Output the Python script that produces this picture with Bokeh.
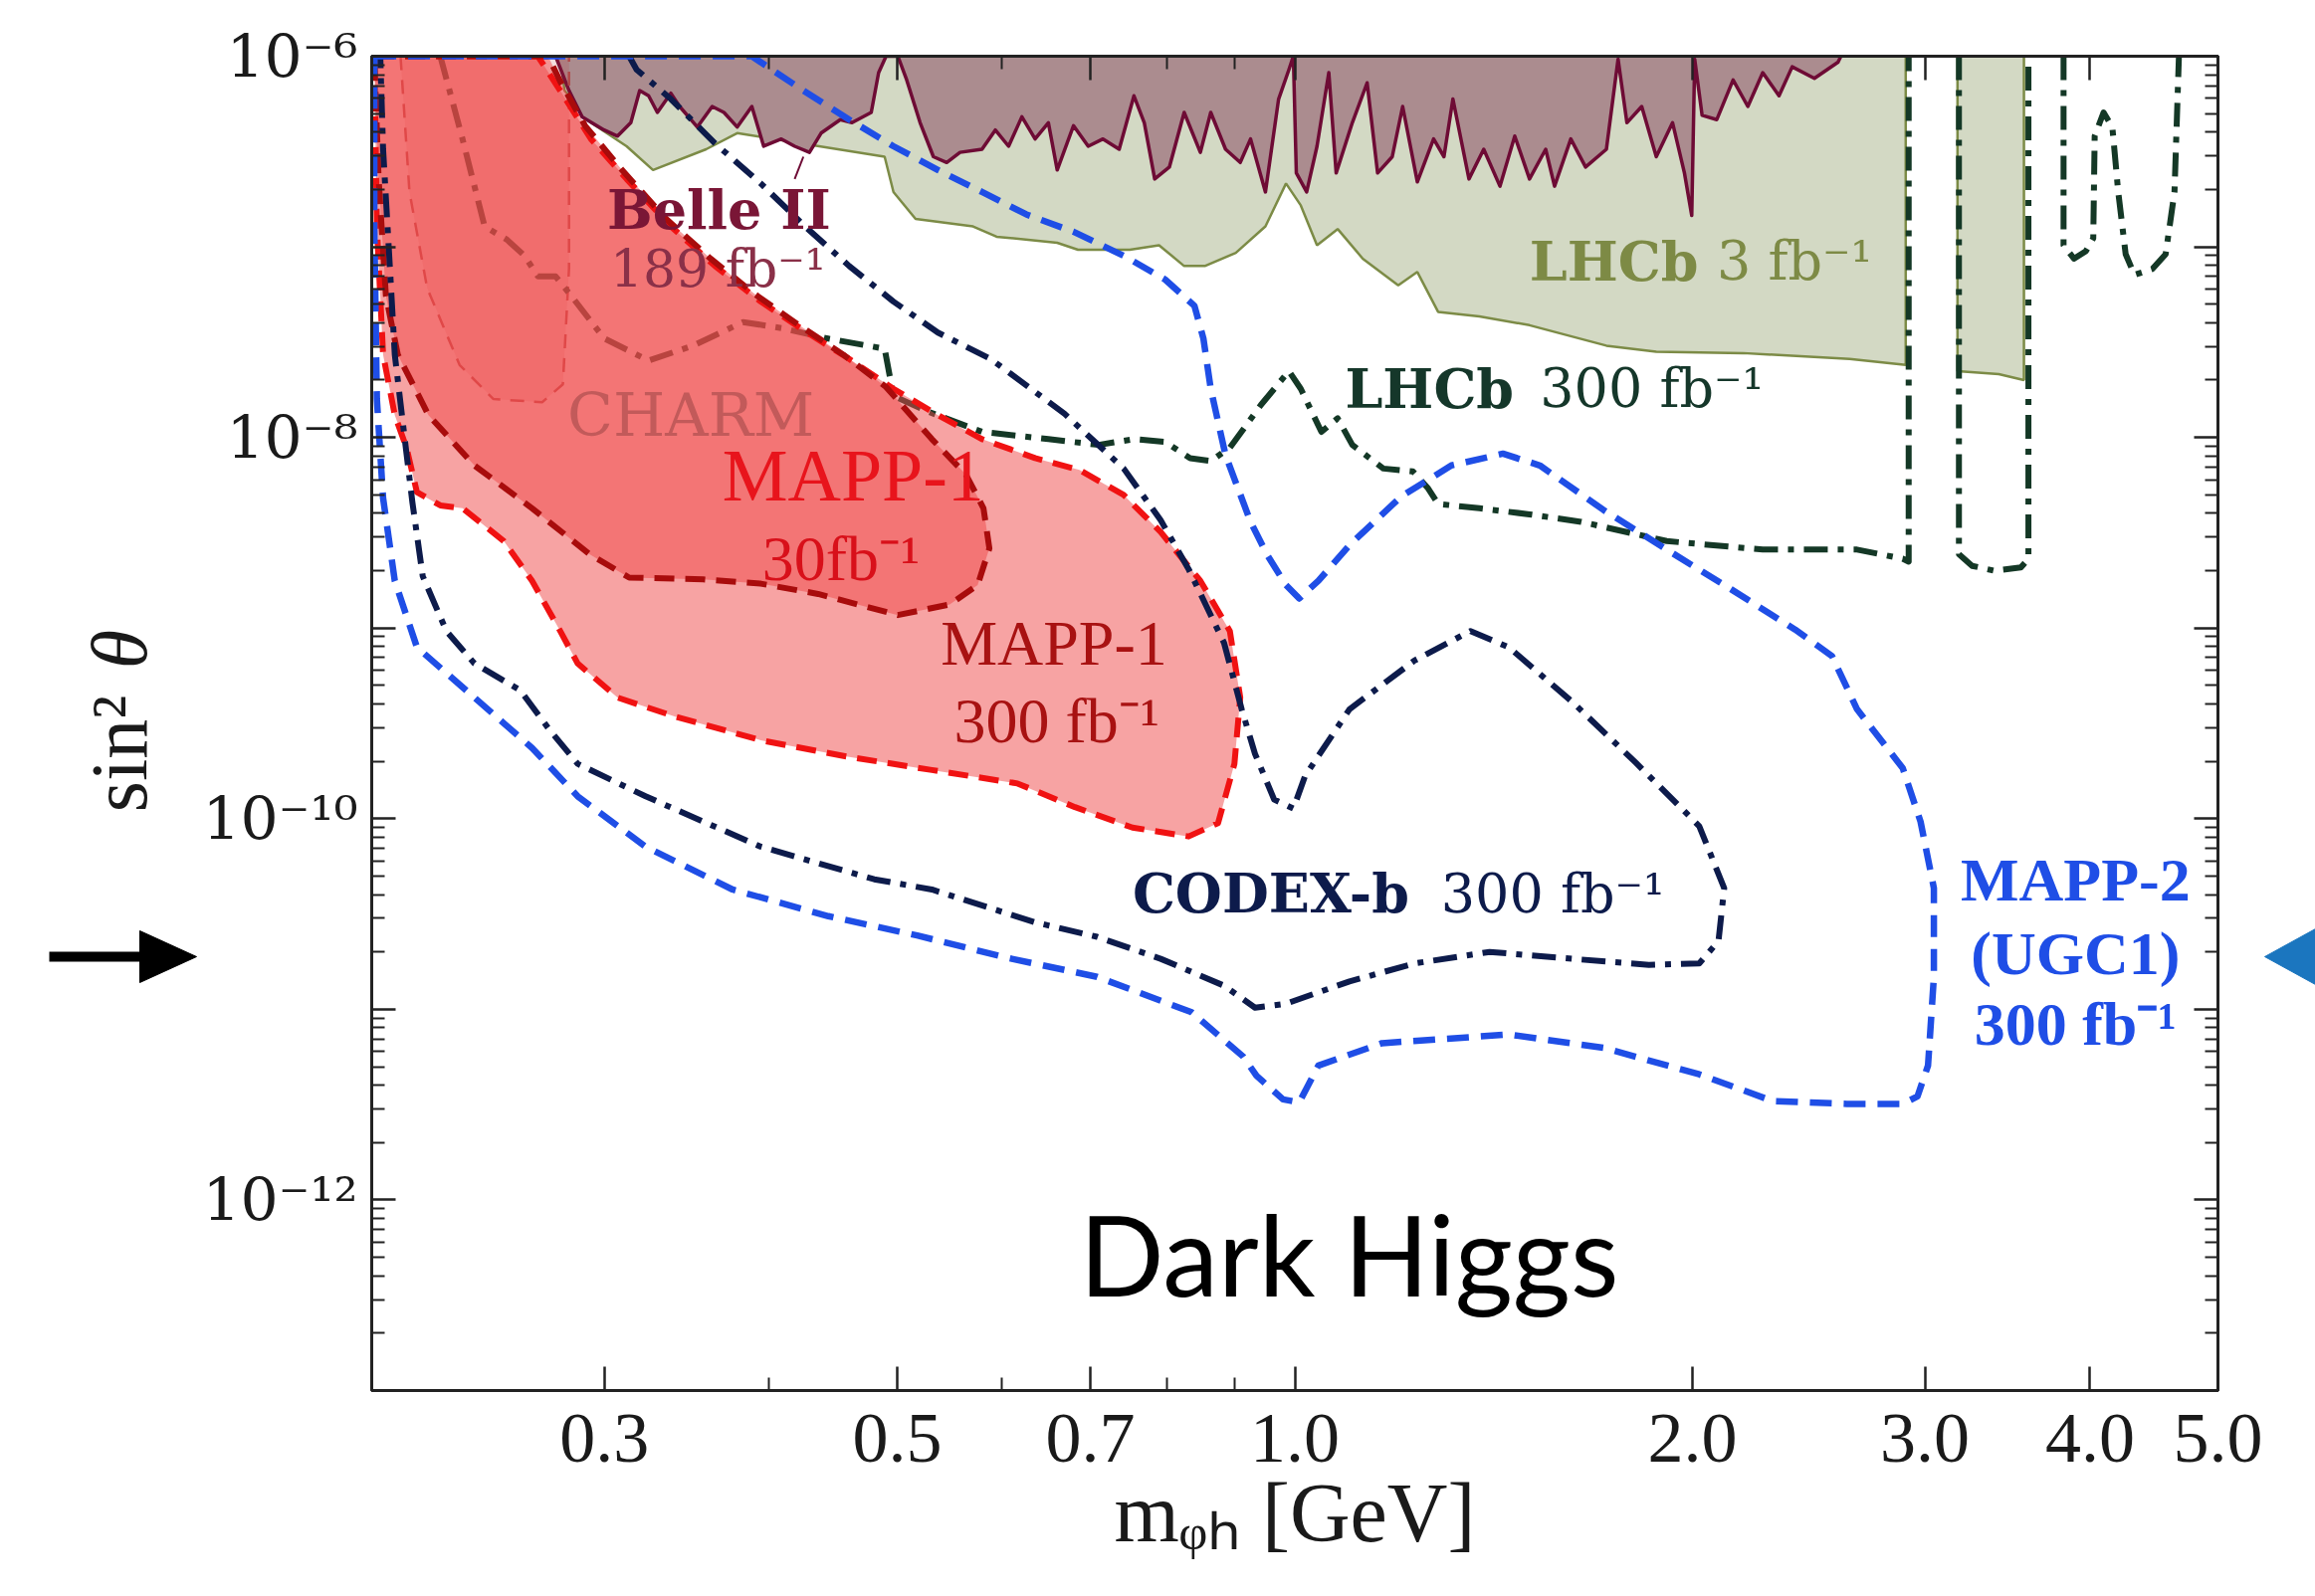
import math
from bokeh.plotting import figure
from bokeh.layouts import row
from bokeh.models import FixedTicker, CustomJSTickFormatter, LogAxis, Label
from bokeh.core.properties import value
from bokeh.embed import file_html
from bokeh.resources import INLINE

# ---------------- data (mass in GeV, sin^2 theta) ----------------
lhcb3_mass = [0.2778, 0.2799, 0.2931, 0.3119, 0.3266, 0.3583, 0.3782, 0.4891, 0.4967, 0.5162,
              0.5706, 0.5946, 0.6608, 0.6852, 0.7499, 0.7892, 0.8245, 0.8547, 0.9022, 0.9500,
              0.9847, 1.0104, 1.0394, 1.0775, 1.1257, 1.1975, 1.2381, 1.2837, 1.3795, 1.5055,
              1.7215, 1.8779, 2.186, 2.631, 2.901, 2.901]
lhcb3_sin2 = [1.0e-6, 6.6e-7, 4.48e-7, 3.37e-7, 2.53e-7, 3.25e-7, 3.95e-7, 2.97e-7, 1.94e-7, 1.40e-7,
              1.28e-7, 1.13e-7, 1.05e-7, 9.65e-8, 9.65e-8, 1.02e-7, 7.93e-8, 7.93e-8, 9.3e-8, 1.28e-7,
              2.15e-7, 1.65e-7, 1.02e-7, 1.24e-7, 8.67e-8, 6.28e-8, 7.38e-8, 4.56e-8, 4.32e-8, 3.88e-8,
              3.03e-8, 2.82e-8, 2.77e-8, 2.58e-8, 2.40e-8, 1.0e-6]
lhcb3b_mass = [3.175, 3.175, 3.412, 3.565, 3.565]
lhcb3b_sin2 = [1.0e-6, 2.23e-8, 2.15e-8, 2.0e-8, 1.0e-6]

belle_mass = [0.2756, 0.2821, 0.2886, 0.2999, 0.3070, 0.3142, 0.3191, 0.3241, 0.3291, 0.3369,
              0.3421, 0.3528, 0.3621, 0.3696, 0.3782, 0.3880, 0.3961, 0.4085, 0.4181, 0.4290,
              0.4378, 0.4527, 0.4621, 0.4778, 0.4840, 0.4903, 0.5005, 0.5083, 0.5203, 0.5325,
              0.5450, 0.5578, 0.5796, 0.5932, 0.6071, 0.6213, 0.6358, 0.6507, 0.6608, 0.6798,
              0.6975, 0.7157, 0.7362, 0.7554, 0.7691, 0.7832, 0.8035, 0.8245, 0.8481, 0.8636,
              0.8862, 0.9092, 0.9257, 0.9500, 0.9721, 0.9897, 0.9974, 1.0026, 1.0208, 1.0394,
              1.0610, 1.0747, 1.1054, 1.1343, 1.1552, 1.1851, 1.2068, 1.2381, 1.2737, 1.2969,
              1.3173, 1.3547, 1.3900, 1.4299, 1.4673, 1.5055, 1.5486, 1.5727, 1.6179, 1.6601,
              1.7215, 1.7569, 1.7842, 1.8308, 1.8779, 1.9320, 1.9724, 1.9977, 2.008, 2.034,
              2.087, 2.147, 2.203, 2.261, 2.326, 2.380, 2.474, 2.578, 2.591]
belle_sin2 = [1.0e-6, 6.6e-7, 4.81e-7, 4.1e-7, 3.81e-7, 4.48e-7, 6.6e-7, 6.2e-7, 5.07e-7, 6.4e-7,
              5.45e-7, 4.25e-7, 5.45e-7, 5.07e-7, 4.25e-7, 5.45e-7, 3.37e-7, 3.68e-7, 3.37e-7, 3.13e-7,
              3.95e-7, 4.65e-7, 4.48e-7, 5.07e-7, 8.2e-7, 1.0e-6, 1.0e-6, 7.5e-7, 4.48e-7, 2.97e-7,
              2.77e-7, 3.13e-7, 3.25e-7, 4.1e-7, 3.37e-7, 4.81e-7, 3.68e-7, 4.48e-7, 2.53e-7, 4.32e-7,
              3.37e-7, 3.68e-7, 3.25e-7, 6.2e-7, 4.48e-7, 2.27e-7, 2.62e-7, 5.07e-7, 3.13e-7, 5.07e-7,
              3.25e-7, 2.77e-7, 3.68e-7, 1.94e-7, 5.96e-7, 8.5e-7, 1.0e-6, 2.44e-7, 1.94e-7, 3.37e-7,
              8.2e-7, 2.44e-7, 4.48e-7, 7.25e-7, 2.44e-7, 2.97e-7, 5.45e-7, 2.19e-7, 3.68e-7, 2.97e-7,
              5.96e-7, 2.27e-7, 3.25e-7, 2.08e-7, 3.81e-7, 2.27e-7, 3.25e-7, 2.08e-7, 3.68e-7, 2.62e-7,
              3.25e-7, 9.65e-7, 4.48e-7, 5.45e-7, 2.97e-7, 4.48e-7, 2.44e-7, 1.46e-7, 9.65e-7, 4.9e-7,
              4.65e-7, 7.5e-7, 5.45e-7, 8.2e-7, 6.2e-7, 8.8e-7, 7.65e-7, 9.3e-7, 1.0e-6]
belle_pointer_mass = [0.4245, 0.4181]
belle_pointer_sin2 = [2.97e-7, 2.27e-7]

charm_mass = [0.2103, 0.2136, 0.2203, 0.2331, 0.2473, 0.2692, 0.2791, 0.2821, 0.2821, 0.2821]
charm_sin2 = [1.0e-6, 1.94e-7, 6.07e-8, 2.40e-8, 1.59e-8, 1.53e-8, 1.90e-8, 7.65e-8, 3.81e-7, 1.0e-6]

lhcb300_mass = [0.2254, 0.2343, 0.2435, 0.2532, 0.2611, 0.2672, 0.2756, 0.2842, 0.2999, 0.3241,
                0.3501, 0.3821, 0.4085, 0.4423, 0.4891, 0.4967, 0.5284, 0.5796, 0.6507, 0.7102,
                0.7554, 0.7973, 0.8331, 0.8636, 0.8929, 0.9425, 0.9897, 1.0104, 1.0474, 1.0775,
                1.1054, 1.1668, 1.2285, 1.2605, 1.2837, 1.3795, 1.5055, 1.6472, 1.9124, 2.261,
                2.665, 2.886, 2.916, 2.916]
lhcb300_sin2 = [1.0e-6, 3.68e-7, 1.28e-7, 1.09e-7, 8.98e-8, 7.0e-8, 7.0e-8, 5.36e-8, 3.31e-8, 2.53e-8,
                3.03e-8, 4.03e-8, 3.75e-8, 3.31e-8, 2.92e-8, 1.65e-8, 1.36e-8, 1.07e-8, 9.8e-9, 9.14e-9,
                9.8e-9, 9.48e-9, 7.79e-9, 7.52e-9, 8.83e-9, 1.48e-8, 2.23e-8, 1.80e-8, 1.07e-8, 1.26e-8,
                9.14e-9, 6.87e-9, 6.64e-9, 5.45e-9, 4.48e-9, 4.25e-9, 3.95e-9, 3.61e-9, 2.86e-9, 2.58e-9,
                2.58e-9, 2.31e-9, 2.23e-9, 1.0e-6]
lhcb300_u_mass = [3.183, 3.183, 3.257, 3.385, 3.546, 3.593, 3.593]
lhcb300_u_sin2 = [1.0e-6, 2.44e-9, 2.12e-9, 2.0e-9, 2.08e-9, 2.31e-9, 1.0e-6]
lhcb300_w_mass = [3.820, 3.820, 3.890, 3.971, 4.023, 4.033, 4.096, 4.159, 4.202, 4.257,
                  4.323, 4.460, 4.564, 4.635, 4.671]
lhcb300_w_sin2 = [1.0e-6, 1.02e-7, 8.67e-8, 9.48e-8, 1.11e-7, 3.81e-7, 5.07e-7, 4.25e-7, 1.94e-7, 9.14e-8,
                  7.13e-8, 7.65e-8, 9.14e-8, 1.94e-7, 1.0e-6]

codex_mass = [0.3133, 0.3174, 0.3369, 0.3639, 0.3941, 0.4257, 0.4598, 0.4967, 0.5367, 0.5885,
              0.6694, 0.7420, 0.7914, 0.8309, 0.8839, 0.9115, 0.9329, 0.9646, 0.9974, 1.0182,
              1.0999, 1.2317, 1.3583, 1.4522, 1.6221, 1.8117, 2.024, 2.114, 2.093, 2.024,
              1.8540, 1.6221, 1.4043, 1.2317, 1.0999, 0.9847, 0.9329, 0.8839, 0.7914, 0.7084,
              0.6358, 0.5311, 0.4803, 0.3941, 0.3224, 0.2864, 0.2727, 0.2591, 0.2392, 0.2278,
              0.2186, 0.2147, 0.2114, 0.2082, 0.2061, 0.2040, 0.2030]
codex_sin2 = [1.0e-6, 8.5e-7, 5.96e-7, 3.49e-7, 2.15e-7, 1.28e-7, 7.93e-8, 5.16e-8, 3.55e-8, 2.58e-8,
              1.33e-8, 6.87e-9, 3.68e-9, 2.04e-9, 8.36e-10, 3.75e-10, 2.19e-10, 1.26e-10, 1.13e-10, 1.68e-10,
              3.75e-10, 6.75e-10, 9.65e-10, 7.93e-10, 4.1e-10, 1.97e-10, 9.14e-11, 4.32e-11, 2.28e-11, 1.74e-11,
              1.71e-11, 1.84e-11, 2.0e-11, 1.74e-11, 1.40e-11, 1.07e-11, 1.02e-11, 1.33e-11, 1.84e-11, 2.4e-11,
              2.86e-11, 4.25e-11, 4.81e-11, 7.13e-11, 1.31e-10, 1.94e-10, 2.92e-10, 4.72e-10, 6.52e-10, 9.65e-10,
              1.87e-9, 4.56e-9, 1.11e-8, 2.72e-8, 9.48e-8, 3.25e-7, 1.0e-6]

mapp2_mass = [0.2009, 0.3880, 0.4245, 0.4598, 0.4967, 0.5367, 0.5796, 0.6261, 0.6798, 0.7420,
              0.7973, 0.8394, 0.8526, 0.8636, 0.8862, 0.9257, 0.9523, 0.9847, 1.0077, 1.0420,
              1.0999, 1.2036, 1.3137, 1.4373, 1.5329, 1.7125, 1.9124, 2.142, 2.392, 2.551,
              2.665, 2.886, 2.977, 3.047, 3.047, 3.016, 2.961, 2.886, 2.618, 2.301,
              2.024, 1.7125, 1.4522, 1.1639, 1.0420, 1.0077, 0.9796, 0.9353, 0.9139, 0.8352,
              0.7084, 0.6040, 0.5176, 0.4434, 0.3752, 0.3224, 0.2864, 0.2645, 0.2392, 0.2164,
              0.2082, 0.2040, 0.2018, 0.2009, 0.2009]
mapp2_sin2 = [1.0e-6, 1.0e-6, 6.6e-7, 4.65e-7, 3.37e-7, 2.53e-7, 1.94e-7, 1.48e-7, 1.20e-7, 8.98e-8,
              6.75e-8, 4.9e-8, 3.31e-8, 1.80e-8, 8.07e-9, 3.61e-9, 2.44e-9, 1.68e-9, 1.43e-9, 1.77e-9,
              2.72e-9, 4.9e-9, 7.13e-9, 8.22e-9, 7.13e-9, 4.17e-9, 2.58e-9, 1.59e-9, 9.82e-10, 7.13e-10,
              3.75e-10, 1.84e-10, 9.65e-11, 4.32e-11, 1.48e-11, 5.07e-12, 3.49e-12, 3.19e-12, 3.19e-12, 3.3e-12,
              4.56e-12, 6.28e-12, 7.38e-12, 6.64e-12, 5.07e-12, 3.25e-12, 3.37e-12, 4.48e-12, 5.65e-12, 9.65e-12,
              1.48e-11, 1.87e-11, 2.44e-11, 3.08e-11, 4.25e-11, 7.13e-11, 1.31e-10, 2.35e-10, 4.32e-10, 7.93e-10,
              1.77e-9, 4.81e-9, 1.59e-8, 1.28e-7, 1.0e-6]

mapp1_300_mass = [0.2009, 0.2672, 0.2778, 0.2931, 0.3119, 0.3369, 0.3639, 0.3941, 0.4257, 0.4598,
                  0.4967, 0.5367, 0.5796, 0.6358, 0.6869, 0.7420, 0.7914, 0.8481, 0.8929, 0.9092,
                  0.9000, 0.8747, 0.8309, 0.7535, 0.6816, 0.6166, 0.5311, 0.4574, 0.3941, 0.3395,
                  0.3070, 0.2864, 0.2778, 0.2645, 0.2518, 0.2343, 0.2254, 0.2164, 0.2125, 0.2082,
                  0.2040, 0.2018, 0.2009]
mapp1_300_sin2 = [1.0e-6, 1.0e-6, 6.6e-7, 3.68e-7, 2.27e-7, 1.28e-7, 7.93e-8, 5.16e-8, 3.61e-8, 2.58e-8,
                  1.80e-8, 1.31e-8, 9.8e-9, 7.79e-9, 6.75e-9, 4.99e-9, 3.19e-9, 1.77e-9, 9.65e-10, 4.32e-10,
                  1.94e-10, 9.48e-11, 8.07e-11, 8.98e-11, 1.15e-10, 1.53e-10, 1.80e-10, 2.12e-10, 2.58e-10, 3.43e-10,
                  4.32e-10, 6.52e-10, 9.65e-10, 1.77e-9, 2.86e-9, 4.25e-9, 4.4e-9, 5.16e-9, 8.83e-9, 1.31e-8,
                  2.72e-8, 1.28e-7, 1.0e-6]

mapp1_30_mass = [0.2009, 0.2720, 0.2778, 0.2901, 0.3094, 0.3342, 0.3611, 0.3900, 0.4213, 0.4551,
                 0.4903, 0.5311, 0.5635, 0.5811, 0.5871, 0.5752, 0.5478, 0.5005, 0.4355, 0.3941,
                 0.3565, 0.3133, 0.2924, 0.2645, 0.2392, 0.2208, 0.2093, 0.2050, 0.2024, 0.2009]
mapp1_30_sin2 = [1.0e-6, 1.0e-6, 7.38e-7, 4.32e-7, 2.53e-7, 1.40e-7, 8.67e-8, 5.65e-8, 3.88e-8, 2.72e-8,
                 1.84e-8, 9.8e-9, 6.4e-9, 4.25e-9, 2.62e-9, 1.68e-9, 1.33e-9, 1.17e-9, 1.51e-9, 1.71e-9,
                 1.80e-9, 1.84e-9, 2.44e-9, 4.25e-9, 7.13e-9, 1.31e-8, 2.72e-8, 5.54e-8, 2.31e-7, 1.0e-6]

x_tick_values = [0.3, 0.5, 0.7, 1.0, 2.0, 3.0, 4.0, 5.0]
x_minor_values = [0.4, 0.6, 0.8, 0.9]
y_decade_exponents = [-13, -12, -11, -10, -9, -8, -7, -6]

# ---------------- layout sizes (pixels) ----------------
W, H = 2326, 1604
LEFT_W, RIGHT_W = 200, 52
MAIN_W = W - LEFT_W - RIGHT_W
FRAME_TOP, FRAME_BOTTOM = 56, 1397          # canvas rows of the plot frame
BORDER_BOTTOM = H - FRAME_BOTTOM

def strip(width):
    # side strip whose frame spans the same rows as the main frame;
    # its y coordinate is "pixels up from the bottom of the page"
    f = figure(width=width, height=H, title=None,
               x_range=(0, width), y_range=(BORDER_BOTTOM, H - FRAME_TOP),
               output_backend="svg", toolbar_location=None,
               min_border_left=0, min_border_right=0,
               min_border_top=FRAME_TOP, min_border_bottom=BORDER_BOTTOM,
               x_axis_location=None, y_axis_location=None)
    f.outline_line_color = None
    f.grid.visible = False
    f.background_fill_color = "white"
    f.border_fill_color = "white"
    return f

# ---------------- main figure ----------------
p = figure(width=MAIN_W, height=H, x_axis_type="log", y_axis_type="log",
           x_range=(0.2, 5.0), y_range=(1e-13, 1e-6),
           output_backend="svg", toolbar_location=None,
           min_border_left=371 - LEFT_W, min_border_right=MAIN_W + LEFT_W - 2228,
           min_border_top=FRAME_TOP, min_border_bottom=BORDER_BOTTOM)
p.background_fill_color = "white"
p.border_fill_color = "white"
p.outline_line_color = "#222222"
p.outline_line_width = 3
p.xgrid.visible = False
p.ygrid.visible = False

y_major = [10.0 ** e for e in y_decade_exponents]
y_minor = [k * 10.0 ** e for e in y_decade_exponents[:-1] for k in range(2, 10)]

y_fmt_code = """
const e = Math.round(Math.log10(tick));
if (e % 2 !== 0) { return ""; }
const sup = {"-": "\u207b", "0": "\u2070", "1": "\u00b9", "2": "\u00b2", "3": "\u00b3",
             "4": "\u2074", "5": "\u2075", "6": "\u2076", "7": "\u2077", "8": "\u2078", "9": "\u2079"};
let s = "";
for (const c of String(e)) { s += sup[c]; }
return "10" + s;
"""

def style_axis(ax, labels=True):
    ax.axis_line_width = 3
    ax.axis_line_color = "#222222"
    ax.major_tick_in = 24
    ax.major_tick_out = 0
    ax.minor_tick_in = 13
    ax.minor_tick_out = 0
    ax.major_tick_line_width = 2.5
    ax.minor_tick_line_width = 2
    ax.major_tick_line_color = "#222222"
    ax.minor_tick_line_color = "#222222"
    if labels:
        ax.major_label_text_color = "#1a1a1a"
    else:
        ax.major_label_text_font_size = "0px"
        ax.major_label_standoff = 0

xb = p.below[0]
xb.ticker = FixedTicker(ticks=x_tick_values, minor_ticks=x_minor_values)
xb.formatter = CustomJSTickFormatter(code="return tick.toFixed(1);")
style_axis(xb)
xb.major_label_text_font = "Liberation Serif"
xb.major_label_text_font_size = "72px"
xb.major_label_standoff = 24
xb.axis_label = "m\u1d69\u2095 [GeV]"
xb.axis_label_text_font = "Liberation Serif"
xb.axis_label_text_font_size = "84px"
xb.axis_label_text_font_style = "normal"
xb.axis_label_text_color = "#1a1a1a"
xb.axis_label_standoff = 2

yl = p.left[0]
yl.ticker = FixedTicker(ticks=y_major, minor_ticks=y_minor)
yl.formatter = CustomJSTickFormatter(code=y_fmt_code)
style_axis(yl)
yl.major_label_text_font = "DejaVu Serif"
yl.major_label_text_font_size = "60px"
yl.major_label_standoff = 14

xt = LogAxis(ticker=FixedTicker(ticks=x_tick_values, minor_ticks=x_minor_values),
             formatter=CustomJSTickFormatter(code="return '';"))
style_axis(xt, labels=False)
p.add_layout(xt, "above")
yr = LogAxis(ticker=FixedTicker(ticks=y_major, minor_ticks=y_minor),
             formatter=CustomJSTickFormatter(code="return '';"))
style_axis(yr, labels=False)
p.add_layout(yr, "right")

# ---------------- filled regions ----------------
p.patch(lhcb3_mass, lhcb3_sin2, fill_color="#d3d9c4", line_color="#7c8b46", line_width=2.5)
p.patch(lhcb3b_mass, lhcb3b_sin2, fill_color="#d3d9c4", line_color="#7c8b46", line_width=2.5)

p.patch(belle_mass, belle_sin2, fill_color="#ab8c8f", line_alpha=0)
p.line(belle_mass, belle_sin2, line_color="#6e0b35", line_width=3.5, line_join="round")
p.line(belle_pointer_mass, belle_pointer_sin2, line_color="#6e0b35", line_width=2)

p.patch(charm_mass, charm_sin2, fill_color="#b83030", fill_alpha=0.16,
        line_color="#b04848", line_width=2.5, line_dash="14 10")

# LHCb 300 projection (under the MAPP-1 fill)
for xs, ys in [(lhcb300_mass, lhcb300_sin2), (lhcb300_u_mass, lhcb300_u_sin2),
               (lhcb300_w_mass, lhcb300_w_sin2)]:
    p.line(xs, ys, line_color="#143826", line_width=6, line_dash="24 10 6 10", line_join="round")

# MAPP-1 regions
p.patch(mapp1_300_mass, mapp1_300_sin2, fill_color="#f04848", fill_alpha=0.5, line_alpha=0)
p.patch(mapp1_30_mass, mapp1_30_sin2, fill_color="#f04848", fill_alpha=0.5, line_alpha=0)
p.line(mapp1_300_mass, mapp1_300_sin2, line_color="#f01212", line_width=6, line_dash="20 11",
       line_join="round")
p.line(mapp1_30_mass, mapp1_30_sin2, line_color="#a80c0c", line_width=6, line_dash="20 11",
       line_join="round")

# CODEX-b and MAPP-2
p.line(codex_mass, codex_sin2, line_color="#0d1b4b", line_width=6, line_dash="24 10 6 10",
       line_join="round")
p.line(mapp2_mass, mapp2_sin2, line_color="#1f4ee6", line_width=6.5, line_dash="22 12",
       line_join="round")

# ---------------- labels ----------------
def lab(x, y, text, color, size, style="normal", font="DejaVu Serif", align="left"):
    p.add_layout(Label(x=x, y=y, text=text, text_color=color, text_font_size=f"{size}px",
                       text_font_style=style, text_font=font, text_align=align,
                       text_baseline="middle"))

lab(0.3015, 1.56e-7, "Belle II", "#7a1636", 54, "bold")
lab(0.3030, 7.65e-8, "189 fb\u207b\u00b9", "#8a3048", 52)
lab(0.2813, 1.31e-8, "CHARM", "#c25a5a", 60)
lab(0.3685, 6.28e-9, "MAPP-1", "#e8141c", 74, font="Liberation Serif")
lab(0.3950, 2.31e-9, "30fb\u207b\u00b9", "#d8101a", 64, font="Liberation Serif")
lab(0.5393, 8.36e-10, "MAPP-1", "#a81212", 64, font="Liberation Serif")
lab(0.5519, 3.25e-10, "300 fb\u207b\u00b9", "#a81212", 64, font="Liberation Serif")
lab(1.5055, 8.36e-8, "LHCb", "#7d8a45", 54, "bold")
lab(2.087, 8.36e-8, "3 fb\u207b\u00b9", "#7d8a45", 54)
lab(1.0914, 1.80e-8, "LHCb", "#15372a", 54, "bold")
lab(1.533, 1.80e-8, "300 fb\u207b\u00b9", "#15372a", 54)
lab(0.7535, 4.03e-11, "CODEX-b", "#0d1b4b", 54, "bold")
lab(1.290, 4.03e-11, "300 fb\u207b\u00b9", "#0d1b4b", 54)
lab(3.900, 4.81e-11, "MAPP-2", "#1f4ee6", 62, "bold", font="Liberation Serif", align="center")
lab(3.900, 1.97e-11, "(UGC1)", "#1f4ee6", 62, "bold", font="Liberation Serif", align="center")
lab(3.900, 8.36e-12, "300 fb\u207b\u00b9", "#1f4ee6", 62, "bold", font="Liberation Serif", align="center")
lab(0.6869, 5.26e-13, "Dark Higgs", "black", 112, font="Lato")

# ---------------- left strip: y-axis title and black arrow ----------------
left = strip(LEFT_W)
ay = H - 961
left.line([49, 150], [ay, ay], line_color="black", line_width=10)
left.patch([140, 197, 140], [ay + 26, ay, ay - 26], fill_color="black", line_color="black")
left.text(x=[119], y=[H - 757], text=["sin\u00b2"], angle=math.pi / 2,
          text_font=value("Liberation Serif"), text_font_size=value("80px"),
          text_align="center", text_baseline="middle", text_color="#1a1a1a")
left.text(x=[119], y=[H - 652], text=["\u03b8"], angle=math.pi / 2,
          text_font=value("Liberation Serif"), text_font_size=value("80px"),
          text_font_style="italic", text_align="center", text_baseline="middle",
          text_color="#1a1a1a")

# ---------------- right strip: blue marker ----------------
right = strip(RIGHT_W)
right.patch([1, RIGHT_W, RIGHT_W], [ay, ay + 28, ay - 28], fill_color="#1b76bf", line_color="#1b76bf")

layout = row(left, p, right)
open("out.html", "w").write(file_html(layout, INLINE))
